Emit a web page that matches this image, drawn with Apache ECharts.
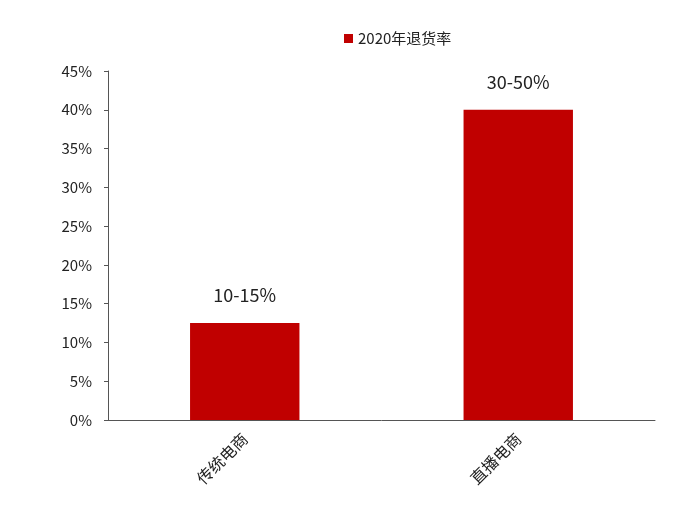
<!DOCTYPE html>
<html><head><meta charset="utf-8">
<script src="https://cdn.jsdelivr.net/npm/echarts@6/dist/echarts.min.js"></script>
<style>html,body{margin:0;padding:0;background:#fff}#c{width:700px;height:511px}</style>
</head><body><div id="c"></div>
<script>
const categories = ['传统电商', '直播电商'];
const returnRates = [12.5, 40];
const rangeLabels = ['10-15%', '30-50%'];
const seriesName = '2020年退货率';

const chart = echarts.init(document.getElementById('c'));
const FONT = '"Noto Sans CJK SC", "Microsoft YaHei", sans-serif';
chart.setOption({
  animation: false,
  textStyle: { fontFamily: FONT },
  legend: {
    top: 26, left: 339, itemWidth: 9, itemHeight: 9, itemGap: 4,
    textStyle: { fontSize: 15, color: '#222', fontFamily: FONT },
    data: [{ name: seriesName, icon: 'rect' }]
  },
  grid: { left: 108, right: 45, top: 71, bottom: 91 },
  xAxis: {
    type: 'category', data: categories,
    axisLine: { lineStyle: { color: '#555', width: 1 } },
    axisTick: { inside: true, length: 6, lineStyle: { color: '#555' } },
    axisLabel: { rotate: 45, fontSize: 16, color: '#222', margin: 16, fontFamily: FONT }
  },
  yAxis: {
    type: 'value', min: 0, max: 45, interval: 5,
    axisLine: { show: true, lineStyle: { color: '#555', width: 1 } },
    axisTick: { show: true, length: 4, lineStyle: { color: '#555' } },
    splitLine: { show: false },
    axisLabel: { formatter: '{value}%', fontSize: 15, color: '#222', margin: 16, fontFamily: FONT }
  },
  series: [{
    name: seriesName, type: 'bar', barWidth: '40%',
    itemStyle: { color: '#C00000' },
    data: returnRates,
    label: {
      show: true, position: 'top', distance: 19, fontSize: 18, color: '#222', fontFamily: FONT,
      formatter: p => rangeLabels[p.dataIndex]
    }
  }]
});
</script></body></html>
